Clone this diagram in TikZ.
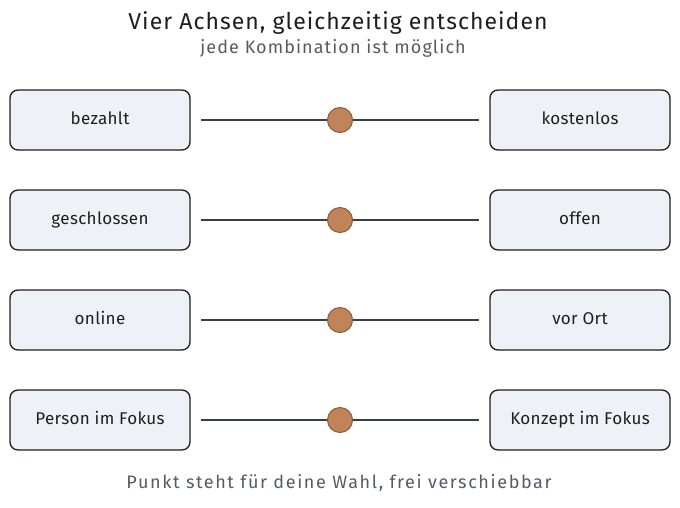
\documentclass[tikz,border=0pt]{standalone}
\usepackage{fontspec}
\setmainfont{Fira Sans}
\definecolor{ink}{HTML}{1E1E1E}
\definecolor{boxfill}{HTML}{EEF2F6}
\definecolor{subgray}{HTML}{555B66}
\definecolor{dotfill}{HTML}{C0845A}
\definecolor{dotdraw}{HTML}{8A5A3A}
\definecolor{linegray}{HTML}{3A3F47}
\tikzset{
  pole/.style={draw=ink, line width=1.3pt, fill=boxfill, rounded corners=8pt,
    minimum width=180pt, minimum height=60pt, inner sep=0pt, text height=12.5pt, text depth=3.5pt,
    font=\fontsize{17}{20}\selectfont\addfontfeatures{LetterSpace=2}, text=ink},
  axis/.style={draw=linegray, line width=1.1pt},
  knob/.style={circle, draw=dotdraw, line width=1pt, fill=dotfill, minimum size=25pt, inner sep=0pt},
}
\begin{document}
\begin{tikzpicture}[x=1pt,y=-1pt]
\useasboundingbox (0,0) rectangle (680,507);
\node[font=\fontsize{23}{26}\selectfont\addfontfeatures{LetterSpace=4.5}, text=ink] (title) at (338,23) {Vier Achsen, gleichzeitig entscheiden};
\node[font=\fontsize{18}{21}\selectfont\addfontfeatures{LetterSpace=6}, text=subgray] (sub) at (333,48) {jede Kombination ist möglich};
\foreach \i/\l/\r in {1/bezahlt/kostenlos, 2/geschlossen/offen, 3/online/vor Ort, 4/Person im Fokus/Konzept im Fokus}{
  \pgfmathsetmacro\yy{20+100*\i}
  \node[pole] (L\i) at (100,\yy) {\l};
  \node[pole] (R\i) at (580,\yy) {\r};
  \coordinate (a\i) at ([xshift=10pt]L\i.east);
  \coordinate (b\i) at ([xshift=-10pt]R\i.west);
  \draw[axis] (a\i) -- (b\i);
  \node[knob] (k\i) at (340,\yy) {};
}
\node[font=\fontsize{18}{21}\selectfont\addfontfeatures{LetterSpace=9}, text=subgray] (foot) at (339,483) {Punkt steht für deine Wahl, frei verschiebbar};
\end{tikzpicture}
\end{document}
